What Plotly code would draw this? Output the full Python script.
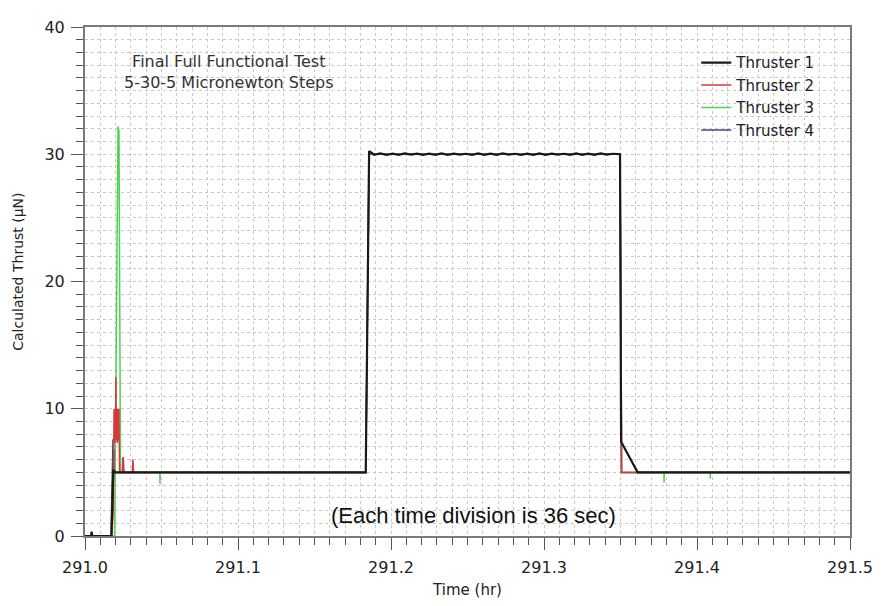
import plotly.graph_objects as go

# ---------------- data (time in hours, thrust in micronewtons) ----------------
t1_time = [291.000, 291.0040, 291.0043, 291.0047, 291.0173, 291.0185, 291.0194,
           291.1835, 291.1857,
           291.1890, 291.1930, 291.1970, 291.2010, 291.2050, 291.2090, 291.2130, 291.2170,
           291.2210, 291.2250, 291.2290, 291.2330, 291.2370, 291.2410, 291.2450, 291.2490,
           291.2530, 291.2570, 291.2610, 291.2650, 291.2690, 291.2730, 291.2770, 291.2810,
           291.2850, 291.2890, 291.2930, 291.2970, 291.3010, 291.3050, 291.3090, 291.3130,
           291.3170, 291.3210, 291.3250, 291.3290, 291.3330, 291.3370, 291.3410, 291.3450,
           291.3497, 291.3504, 291.3612, 291.5000]
t1_vals = [0.0, 0.0, 0.35, 0.0, 0.0, 5.2, 5.0,
           5.0, 30.25,
           29.96, 30.06, 29.96, 30.05, 29.95, 30.06, 29.97, 30.05,
           29.96, 30.05, 29.96, 30.06, 29.95, 30.05, 29.97, 30.04,
           29.96, 30.06, 29.96, 30.05, 29.95, 30.06, 29.97, 30.04,
           29.96, 30.05, 29.96, 30.06, 29.95, 30.05, 29.97, 30.04,
           29.96, 30.06, 29.96, 30.05, 29.95, 30.06, 29.97, 30.04,
           30.0, 7.4, 5.0, 5.0]

t2_time = [291.000, 291.0175, 291.0185, 291.0190, 291.0193, 291.0196, 291.0199,
           291.0202, 291.0205, 291.0208, 291.0211, 291.0214, 291.0218, 291.0222,
           291.0226, 291.0244, 291.0248, 291.0252, 291.0309, 291.0313, 291.0317,
           291.1835, 291.1857, 291.3497, 291.3508, 291.5000]
t2_vals = [0.0, 0.0, 2.0, 10.0, 7.3, 10.0, 7.5,
           12.5, 7.5, 10.0, 7.3, 10.0, 7.5, 10.0,
           5.0, 5.0, 6.1, 5.0, 5.0, 6.0, 5.0,
           5.0, 30.0, 30.0, 5.0, 5.0]

t3_time = [291.000, 291.0194, 291.0216, 291.0222, 291.0232,
           291.0489, 291.0490, 291.0491,
           291.1835, 291.1857, 291.3497, 291.3508,
           291.3784, 291.3785, 291.3786,
           291.4086, 291.4087, 291.4088, 291.5000]
t3_vals = [0.0, 0.0, 32.2, 31.8, 5.0,
           5.0, 4.1, 5.0,
           5.0, 30.0, 30.0, 5.0,
           5.0, 4.2, 5.0,
           5.0, 4.5, 5.0, 5.0]

t4_time = [291.000, 291.0170, 291.0183, 291.0186, 291.0190, 291.0194,
           291.0246, 291.0250, 291.0254,
           291.1835, 291.1857, 291.3497, 291.3505, 291.5000]
t4_vals = [0.0, 0.0, 7.6, 4.5, 6.8, 5.0,
           5.0, 6.2, 5.0,
           5.0, 30.0, 30.0, 5.0, 5.0]

names = ["Thruster 1", "Thruster 2", "Thruster 3", "Thruster 4"]
colors = ["#1a1a1a", "#d43a3a", "#4fd24f", "#45458f"]

x_ticks = [291.0, 291.1, 291.2, 291.3, 291.4, 291.5]
x_tick_text = ["291.0", "291.1", "291.2", "291.3", "291.4", "291.5"]
y_ticks = [0, 10, 20, 30, 40]

series = [(t1_time, t1_vals), (t2_time, t2_vals), (t3_time, t3_vals), (t4_time, t4_vals)]

fig = go.Figure()
# draw thruster 4 first, thruster 1 last (on top); legend order kept 1..4
for i in [3, 2, 1, 0]:
    tx, ty = series[i]
    fig.add_trace(go.Scatter(
        x=tx, y=ty, mode="lines", name=names[i],
        line=dict(color=colors[i], width=2.2 if i == 0 else 1.5),
        legendrank=i + 1,
    ))

grid_col = "#c9c9c9"
axis_col = "#7a7a7a"
tick_col = "#555"
font_main = "DejaVu Sans"

# the page body keeps its default 8px margin, so the figure is 8px smaller
fig.update_layout(
    width=875, height=598,
    margin=dict(l=77, r=26, t=10, b=64),
    paper_bgcolor="white", plot_bgcolor="white",
    font=dict(family=font_main, size=14, color="#222"),
    showlegend=True,
    legend=dict(
        x=0.799, y=0.962, xanchor="left", yanchor="top",
        bgcolor="rgba(0,0,0,0)", borderwidth=0,
        font=dict(family=font_main, size=15, color="#222"),
        tracegroupgap=0, itemwidth=30,
    ),
    xaxis=dict(
        range=[291.0, 291.5],
        tickvals=x_ticks, ticktext=x_tick_text,
        ticks="outside", ticklen=12, tickwidth=1.2, tickcolor=tick_col,
        ticklabelstandoff=4,
        tickfont=dict(family=font_main, size=16, color="#222"),
        showline=True, linewidth=2, linecolor=axis_col, mirror=True,
        showgrid=True, gridcolor=grid_col, griddash="dot", gridwidth=1,
        zeroline=False,
        minor=dict(dtick=0.01, tick0=291.0, ticks="outside", ticklen=7,
                   tickwidth=1.2, tickcolor=tick_col,
                   showgrid=True, gridcolor=grid_col, griddash="dot", gridwidth=1),
        title=dict(text="Time (hr)", font=dict(family=font_main, size=15, color="#222"),
                   standoff=8),
    ),
    yaxis=dict(
        range=[0, 40],
        tickvals=y_ticks,
        ticks="outside", ticklen=12, tickwidth=1.2, tickcolor=tick_col,
        ticklabelstandoff=3,
        tickfont=dict(family=font_main, size=16, color="#222"),
        showline=True, linewidth=2, linecolor=axis_col, mirror=True,
        showgrid=True, gridcolor=grid_col, griddash="dot", gridwidth=1,
        zeroline=False,
        minor=dict(dtick=1, tick0=0, ticks="outside", ticklen=7,
                   tickwidth=1.2, tickcolor=tick_col,
                   showgrid=True, gridcolor=grid_col, griddash="dot", gridwidth=1),
    ),
    annotations=[
        dict(text="Calculated Thrust (\u03bcN)", textangle=-90,
             xref="paper", yref="paper", x=-0.087, y=0.52,
             xanchor="center", yanchor="middle", showarrow=False,
             font=dict(family=font_main, size=14, color="#222")),
        dict(text="Final Full Functional Test<br>5-30-5 Micronewton Steps",
             xref="paper", yref="paper", x=0.188, y=0.912,
             xanchor="center", yanchor="middle", showarrow=False, align="center",
             font=dict(family=font_main, size=16, color="#333")),
        dict(text="(Each time division is 36 sec)",
             xref="paper", yref="paper", x=0.508, y=0.04,
             xanchor="center", yanchor="middle", showarrow=False,
             font=dict(family="Liberation Sans", size=22, color="#111")),
    ],
)

fig.write_html("out.html")
